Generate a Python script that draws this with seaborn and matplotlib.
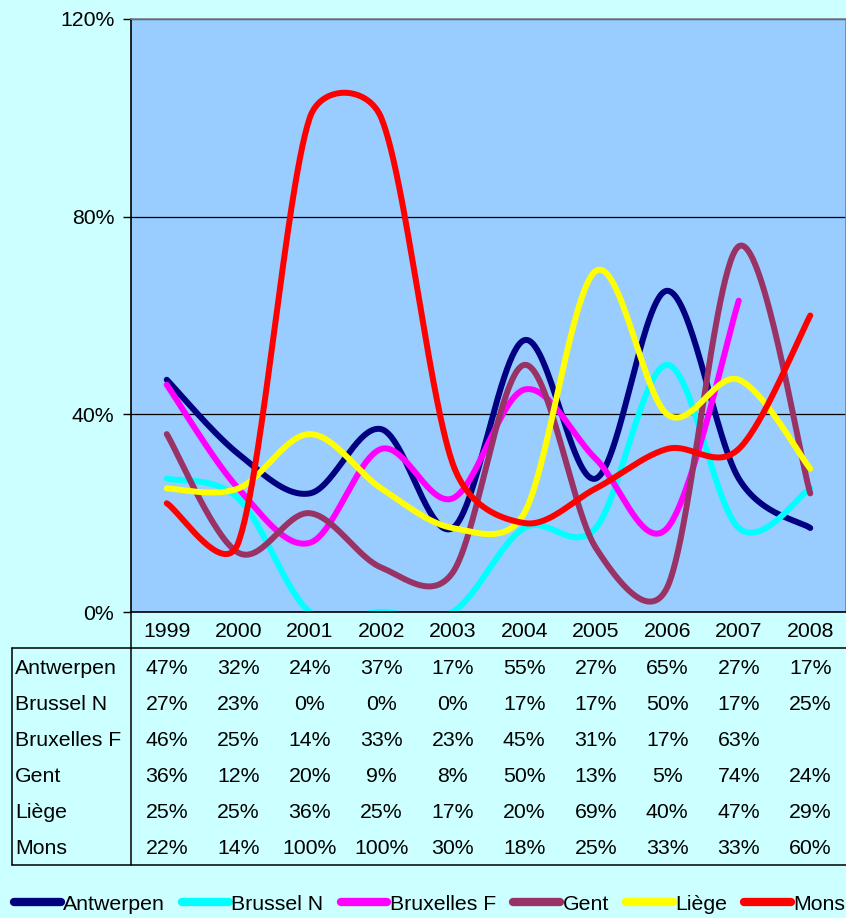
import numpy as np
import pandas as pd
import matplotlib
matplotlib.use("Agg")
import matplotlib.pyplot as plt
import seaborn as sns
from matplotlib.lines import Line2D

# ---- data (percent) ----
years = ["1999", "2000", "2001", "2002", "2003", "2004", "2005", "2006", "2007", "2008"]
series = ["Antwerpen", "Brussel N", "Bruxelles F", "Gent", "Liège", "Mons"]
antwerpen = [47, 32, 24, 37, 17, 55, 27, 65, 27, 17]
brussel_n = [27, 23, 0, 0, 0, 17, 17, 50, 17, 25]
bruxelles_f = [46, 25, 14, 33, 23, 45, 31, 17, 63, None]
gent = [36, 12, 20, 9, 8, 50, 13, 5, 74, 24]
liege = [25, 25, 36, 25, 17, 20, 69, 40, 47, 29]
mons = [22, 14, 100, 100, 30, 18, 25, 33, 33, 60]
colors = ["#000080", "#00FFFF", "#FF00FF", "#993366", "#FFFF00", "#FF0000"]
values = [antwerpen, brussel_n, bruxelles_f, gent, liege, mons]

sns.set_theme(style="white")
plt.rcParams["font.family"] = ["Liberation Sans", "DejaVu Sans"]
plt.rcParams["text.color"] = "black"
plt.rcParams["xtick.color"] = "black"
plt.rcParams["ytick.color"] = "black"
plt.rcParams["xtick.labelcolor"] = "black"
plt.rcParams["ytick.labelcolor"] = "black"
FS = 15.3

W, H = 846, 918
fig = plt.figure(figsize=(W / 100, H / 100), dpi=100, facecolor="#CCFFFF")

# plot area in pixel units
L, R, T, B = 131, 846, 19, 612
ax = fig.add_axes([L / W, 1 - B / H, (R - L) / W, (B - T) / H])
ax.set_facecolor("#99CCFF")
ymax = 120
sx = (R - L) / len(years)          # pixels per category
sy = (B - T) / ymax                # pixels per percent


def smooth_curve(xs, ys, n=60):
    """Bezier smoothing in screen space with clamped tangents (spreadsheet style)."""
    P = np.column_stack([np.asarray(xs, float) * sx, np.asarray(ys, float) * sy])
    out = []
    for i in range(len(P) - 1):
        p0 = P[i - 1] if i > 0 else P[i]
        p1, p2 = P[i], P[i + 1]
        p3 = P[i + 2] if i + 2 < len(P) else P[i + 1]
        half = np.linalg.norm(p2 - p1) / 2
        t1 = (p2 - p0) / 6
        t2 = (p3 - p1) / 6
        for t in (t1, t2):
            ln = np.linalg.norm(t)
            if ln > half and ln > 0:
                t *= half / ln
        c1, c2 = p1 + t1, p2 - t2
        tt = np.linspace(0, 1, n)[:, None]
        seg = ((1 - tt) ** 3) * p1 + 3 * ((1 - tt) ** 2) * tt * c1 \
            + 3 * (1 - tt) * tt ** 2 * c2 + tt ** 3 * p2
        out.append(seg if i == 0 else seg[1:])
    pts = np.vstack(out)
    return pts[:, 0] / sx, pts[:, 1] / sy


rows = []
for name, vals in zip(series, values):
    xs = [i for i, v in enumerate(vals) if v is not None]
    ys = [v for v in vals if v is not None]
    cx, cy = smooth_curve(xs, ys)
    for k, (a, b) in enumerate(zip(cx, cy)):
        rows.append((name, k, a, b))
df = pd.DataFrame(rows, columns=["series", "order", "x", "y"])

sns.lineplot(data=df, x="x", y="y", hue="series", hue_order=series,
             palette=colors, sort=False, estimator=None, lw=4.3, ax=ax,
             legend=True)
for ln in ax.lines:
    ln.set_solid_capstyle("round")
    ln.set_solid_joinstyle("round")
handles, labels = ax.get_legend_handles_labels()
ax.get_legend().remove()

ax.set_xlim(-0.5, len(years) - 0.5)
ax.set_ylim(0, ymax)
ax.set_yticks([0, 40, 80, 120])
ax.set_yticklabels([f"{v}%" for v in [0, 40, 80, 120]], fontsize=FS)
ax.set_xticks(range(len(years)))
ax.set_xticklabels(years, fontsize=FS)
ax.tick_params(axis="y", direction="out", length=6, width=1, color="#000000", pad=6, left=True)
ax.tick_params(axis="x", length=0, pad=7)
ax.set_xlabel("")
ax.set_ylabel("")
ax.set_axisbelow(True)
ax.yaxis.grid(True, color="#000000", lw=0.9)
ax.xaxis.grid(False)
for side, col in [("left", "#000000"), ("bottom", "#000000"), ("top", "#808080"), ("right", "#808080")]:
    ax.spines[side].set_visible(True)
    ax.spines[side].set_color(col)
    ax.spines[side].set_linewidth(1.2)


def fx(px):
    return px / W


def fy(py):
    return 1 - py / H


# data table under the chart
tbl_top, tbl_bot, tbl_left = 648, 865, 12
for (x0, y0, x1, y1) in [(tbl_left, tbl_top, W, tbl_top), (tbl_left, tbl_bot, W, tbl_bot),
                         (tbl_left, tbl_top, tbl_left, tbl_bot), (L, B, L, tbl_bot)]:
    fig.add_artist(Line2D([fx(x0), fx(x1)], [fy(y0), fy(y1)], color="#000000", lw=1.1))

row_h = (tbl_bot - tbl_top) / len(series)
for r, (name, vals) in enumerate(zip(series, values)):
    yc = tbl_top + row_h * (r + 0.5) + 2
    fig.text(fx(15), fy(yc), name, ha="left", va="center", fontsize=FS)
    for j, v in enumerate(vals):
        if v is None:
            continue
        xc = L + sx * (j + 0.5)
        fig.text(fx(xc), fy(yc), f"{v}%", ha="center", va="center", fontsize=FS)

# legend along the bottom
leg_handles = [Line2D([], [], color=h.get_color(), lw=6, solid_capstyle="round") for h in handles]
fig.legend(leg_handles, labels, loc="center left", bbox_to_anchor=(fx(14), fy(904)),
           ncol=6, frameon=False, fontsize=FS, handlelength=2.2, handletextpad=0.12,
           columnspacing=0.8, borderpad=0, borderaxespad=0)

fig.savefig("out.png", dpi=100, facecolor=fig.get_facecolor())
